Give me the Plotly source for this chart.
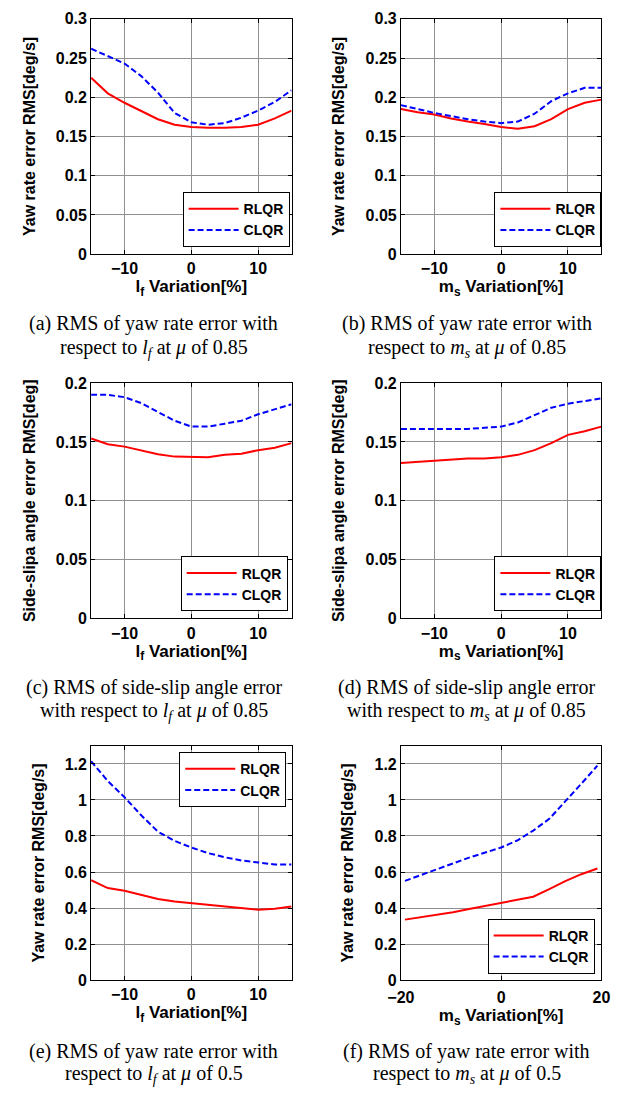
import plotly.graph_objects as go

# ---------------- data ----------------
x_lf = [-15, -12.5, -10, -7.5, -5, -2.5, 0, 2.5, 5, 7.5, 10, 12.5, 15]
x_ms = [-15, -12.5, -10, -7.5, -5, -2.5, 0, 2.5, 5, 7.5, 10, 12.5, 15]
x_ms2 = [-19.2, -16, -12.8, -9.6, -6.4, -3.2, 0, 3.2, 6.4, 9.6, 12.8, 16, 19.2]

a_rlqr = [0.225, 0.205, 0.193, 0.182, 0.172, 0.165, 0.162, 0.161, 0.161, 0.162, 0.165, 0.173, 0.183]
a_clqr = [0.262, 0.253, 0.243, 0.227, 0.206, 0.180, 0.168, 0.165, 0.167, 0.174, 0.183, 0.194, 0.209]

b_rlqr = [0.185, 0.181, 0.178, 0.173, 0.169, 0.166, 0.162, 0.160, 0.163, 0.172, 0.185, 0.193, 0.197]
b_clqr = [0.190, 0.185, 0.180, 0.176, 0.172, 0.169, 0.167, 0.169, 0.179, 0.195, 0.205, 0.212, 0.212]

c_rlqr = [0.153, 0.148, 0.146, 0.143, 0.1395, 0.1375, 0.137, 0.137, 0.139, 0.140, 0.143, 0.145, 0.149]
c_clqr = [0.190, 0.190, 0.188, 0.183, 0.1755, 0.168, 0.163, 0.163, 0.1655, 0.168, 0.1735, 0.178, 0.182]

d_rlqr = [0.132, 0.133, 0.134, 0.135, 0.136, 0.136, 0.137, 0.139, 0.143, 0.149, 0.156, 0.159, 0.163]
d_clqr = [0.161, 0.161, 0.161, 0.161, 0.161, 0.162, 0.163, 0.1665, 0.1727, 0.179, 0.1825, 0.185, 0.187]

e_rlqr = [0.555, 0.511, 0.496, 0.473, 0.451, 0.436, 0.427, 0.415, 0.405, 0.396, 0.391, 0.396, 0.409]
e_clqr = [1.215, 1.105, 1.015, 0.915, 0.824, 0.773, 0.736, 0.705, 0.682, 0.664, 0.653, 0.642, 0.642]

f_rlqr = [0.336, 0.350, 0.362, 0.377, 0.395, 0.412, 0.427, 0.445, 0.463, 0.505, 0.550, 0.588, 0.620]
f_clqr = [0.551, 0.582, 0.615, 0.648, 0.680, 0.710, 0.736, 0.775, 0.830, 0.895, 0.990, 1.090, 1.190]

yt_small = [0, 0.05, 0.1, 0.15, 0.2, 0.25, 0.3]
yt_small_lbl = ["0", "0.05", "0.1", "0.15", "0.2", "0.25", "0.3"]
yt_big = [0, 0.2, 0.4, 0.6, 0.8, 1.0, 1.2]
yt_big_lbl = ["0", "0.2", "0.4", "0.6", "0.8", "1", "1.2"]
xt_15 = [-10, 0, 10]
xt_20 = [-20, 0, 20]

captions = [
    ["(a) RMS of yaw rate error with", "respect to <i>l<sub>f</sub></i> at <i>μ</i> of 0.85"],
    ["(b) RMS of yaw rate error with", "respect to <i>m<sub>s</sub></i> at <i>μ</i> of 0.85"],
    ["(c) RMS of side-slip angle error", "with respect to <i>l<sub>f</sub></i> at <i>μ</i> of 0.85"],
    ["(d) RMS of side-slip angle error", "with respect to <i>m<sub>s</sub></i> at <i>μ</i> of 0.85"],
    ["(e) RMS of yaw rate error with", "respect to <i>l<sub>f</sub></i> at <i>μ</i> of 0.5"],
    ["(f) RMS of yaw rate error with", "respect to <i>m<sub>s</sub></i> at <i>μ</i> of 0.5"],
]

# ---------------- figure ----------------
W, H = 634, 1096
SANS = "Liberation Sans, Arial, sans-serif"
SERIF = "Liberation Serif, Times New Roman, serif"

col_px = [(80, 288), (401.5, 609.5)]
row_px = [(11, 250), (381, 620), (749.5, 987.5)]

# legend anchor: (right x px, y px, anchor)
panels = [
    dict(x=x_lf, r=a_rlqr, c=a_clqr, xr=[-15, 15], xt=xt_15, yr=[0, 0.3], yt=yt_small, ytl=yt_small_lbl,
         xtitle="l<sub>f</sub> Variation[%]", ytitle="Yaw rate error RMS[deg/s]", leg=(286, 243, "bottom")),
    dict(x=x_ms, r=b_rlqr, c=b_clqr, xr=[-15, 15], xt=xt_15, yr=[0, 0.3], yt=yt_small, ytl=yt_small_lbl,
         xtitle="m<sub>s</sub> Variation[%]", ytitle="Yaw rate error RMS[deg/s]", leg=(609.5, 243, "bottom")),
    dict(x=x_lf, r=c_rlqr, c=c_clqr, xr=[-15, 15], xt=xt_15, yr=[0, 0.2], yt=yt_small[:5], ytl=yt_small_lbl[:5],
         xtitle="l<sub>f</sub> Variation[%]", ytitle="Side-slipa angle error RMS[deg]", leg=(284, 613, "bottom")),
    dict(x=x_ms, r=d_rlqr, c=d_clqr, xr=[-15, 15], xt=xt_15, yr=[0, 0.2], yt=yt_small[:5], ytl=yt_small_lbl[:5],
         xtitle="m<sub>s</sub> Variation[%]", ytitle="Side-slipa angle error RMS[deg]", leg=(609.5, 613, "bottom")),
    dict(x=x_lf, r=e_rlqr, c=e_clqr, xr=[-15, 15], xt=xt_15, yr=[0, 1.3], yt=yt_big, ytl=yt_big_lbl,
         xtitle="l<sub>f</sub> Variation[%]", ytitle="Yaw rate error RMS[deg/s]", leg=(282.5, 756, "top")),
    dict(x=x_ms2, r=f_rlqr, c=f_clqr, xr=[-20, 20], xt=xt_20, yr=[0, 1.3], yt=yt_big, ytl=yt_big_lbl,
         xtitle="m<sub>s</sub> Variation[%]", ytitle="Yaw rate error RMS[deg/s]", leg=(602.5, 981, "bottom")),
]

fig = go.Figure()
layout = dict(
    width=W, height=H, margin=dict(l=0, r=0, t=0, b=0),
    paper_bgcolor="white", plot_bgcolor="white",
    font=dict(family=SANS, size=14, color="black"),
    showlegend=True,
)
annotations = []

for i, p in enumerate(panels):
    row, col = divmod(i, 2)
    n = "" if i == 0 else str(i + 1)
    x0, x1 = col_px[col]
    y0, y1 = row_px[row]
    lg = "legend" if i == 0 else f"legend{i+1}"
    fig.add_trace(go.Scatter(x=p["x"], y=p["r"], mode="lines", name="RLQR",
                             line=dict(color="#ff0000", width=2), xaxis="x" + n, yaxis="y" + n,
                             legend=lg))
    fig.add_trace(go.Scatter(x=p["x"], y=p["c"], mode="lines", name="CLQR",
                             line=dict(color="#0000ff", width=2, dash="6px,3px"), xaxis="x" + n, yaxis="y" + n,
                             legend=lg))
    axcommon = dict(showline=True, linecolor="black", linewidth=1, mirror="allticks",
                    ticks="inside", ticklen=4, tickcolor="black",
                    showgrid=True, gridcolor="#909090", gridwidth=1, zeroline=False,
                    tickfont=dict(family=SANS, size=16, color="black", weight="bold"))
    layout["xaxis" + n] = dict(axcommon, domain=[x0 / W, x1 / W], anchor="y" + n,
                               range=p["xr"], tickmode="array", tickvals=p["xt"],
                               ticklabelstandoff=(3 if i == 5 else 0),
                               title=dict(text=p["xtitle"], standoff=2,
                                          font=dict(family=SANS, size=17, color="black", weight="bold")))
    layout["yaxis" + n] = dict(axcommon, domain=[1 - y1 / H, 1 - y0 / H], anchor="x" + n,
                               range=p["yr"], tickmode="array", tickvals=p["yt"], ticktext=p["ytl"],
                               title=dict(text=p["ytitle"], standoff=16,
                                          font=dict(family=SANS, size=16, color="black", weight="bold")))
    lx, ly, yanch = p["leg"]
    layout[lg] = dict(x=lx / W, y=1 - ly / H, xanchor="right", yanchor=yanch,
                      xref="paper", yref="paper",
                      bgcolor="white", bordercolor="black", borderwidth=1,
                      font=dict(family=SANS, size=14, color="black", weight="bold"),
                      itemwidth=50, tracegroupgap=0)
    # captions
    cx = [145, 470][col]
    cy = [(320.5, 345.5), (690.5, 715), (1060, 1083.5)][row]
    for line, yy in zip(captions[i], cy):
        annotations.append(dict(text=line, x=cx / W, y=1 - yy / H, xref="paper", yref="paper",
                                xanchor="center", yanchor="middle", showarrow=False,
                                font=dict(family=SERIF, size=20, color="black")))

layout["annotations"] = annotations
fig.update_layout(**layout)
fig.write_html("out.html")
